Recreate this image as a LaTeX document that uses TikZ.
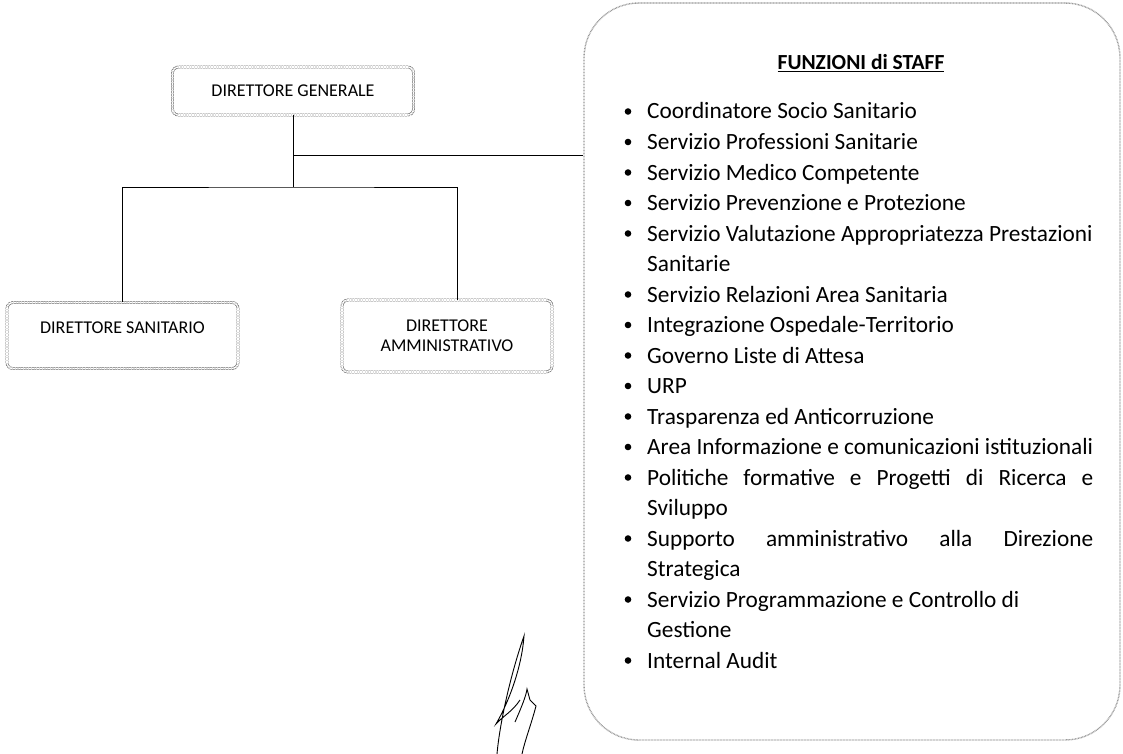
\documentclass[tikz,border=0pt]{standalone}
\usepackage{fontspec}
\setmainfont{Carlito}
\usepackage{tikz}
\usetikzlibrary{calc}

\newlength{\listw}
\setlength{\listw}{446pt}

\tikzset{
  boss/.style={shape=rectangle, rounded corners=6pt, draw=black!60, line width=0.6pt,
    double=white, double distance=1.6pt, dash pattern=on 2pt off 0.7pt,
    align=center, font=\fontsize{18}{20}\selectfont},
  staffbox/.style={shape=rectangle, rounded corners=55pt, draw=black!40, line width=1.4pt,
    dash pattern=on 0.8pt off 0.7pt},
  voce/.style={anchor=base west, inner sep=0pt, font=\fontsize{23.3}{30}\selectfont},
  link/.style={draw=black, line width=0.8pt}
}

\begin{document}
\begin{tikzpicture}
\useasboundingbox (0pt,0pt) rectangle (1123pt,-754pt);
% vertici
\node[boss, minimum width=241pt, minimum height=48pt] (dg) at (293pt,-91pt) {DIRETTORE GENERALE};
\node[boss, minimum width=231pt, minimum height=66pt, text height=13pt, text depth=17pt] (ds) at (122.5pt,-335.5pt) {DIRETTORE SANITARIO};
\node[boss, minimum width=210pt, minimum height=72pt] (da) at (447pt,-336pt) {DIRETTORE\\AMMINISTRATIVO};
% staff
\node[staffbox, minimum width=536pt, minimum height=737pt] (staff) at (852pt,-371.5pt) {};
\node[font=\fontsize{21.5}{24}\selectfont\bfseries] (titolo) at (861pt,-63pt) {\underline{FUNZIONI di STAFF}};
\foreach \k/\b/\t in {0/1/{Coordinatore Socio Sanitario},
                      1/1/{Servizio Professioni Sanitarie},
                      2/1/{Servizio Medico Competente},
                      3/1/{Servizio Prevenzione e Protezione},
                      4/1/{Servizio Valutazione Appropriatezza Prestazioni},
                      5/0/{Sanitarie},
                      6/1/{Servizio Relazioni Area Sanitaria},
                      7/1/{Integrazione Ospedale-Territorio},
                      8/1/{Governo Liste di Attesa},
                      9/1/{URP},
                      10/1/{Trasparenza ed Anticorruzione},
                      11/1/{Area Informazione e comunicazioni istituzionali},
                      12/1/{\makebox[\listw][s]{Politiche formative e Progetti di Ricerca e}},
                      13/0/{Sviluppo},
                      14/1/{\makebox[\listw][s]{Supporto amministrativo alla Direzione}},
                      15/0/{Strategica},
                      16/1/{Servizio Programmazione e Controllo di},
                      17/0/{Gestione},
                      18/1/{Internal Audit}}
  {\node[voce] (l\k) at (647pt,{-119pt-\k*30.5pt}) {\t};
   \ifnum\b=1 \fill (628pt,{-111.5pt-\k*30.5pt}) circle (3.3pt); \fi}
% collegamenti
\coordinate (tee) at (dg.south |- 0pt,-155pt);
\coordinate (fork) at (dg.south |- 0pt,-187pt);
\draw[link] (dg.south) -- (fork);
\draw[link] (tee) -- (tee -| staff.west);
\draw[link] (ds.north) |- (fork) -| ([xshift=10pt]da.north);
% firma
\draw[line width=0.9pt] (497pt,-754pt) .. controls (500pt,-720pt) and (512pt,-670pt) .. (524pt,-636pt)
  .. controls (522pt,-665pt) and (510pt,-700pt) .. (496pt,-724pt)
  .. controls (503pt,-716pt) and (512pt,-712pt) .. (520pt,-700pt);
\draw[line width=0.9pt] (515pt,-722pt) .. controls (522pt,-706pt) and (526pt,-696pt) .. (527pt,-689pt)
  -- (530pt,-700pt) -- (536pt,-706pt) .. controls (531pt,-725pt) and (525pt,-740pt) .. (522pt,-754pt);
\end{tikzpicture}
\end{document}
